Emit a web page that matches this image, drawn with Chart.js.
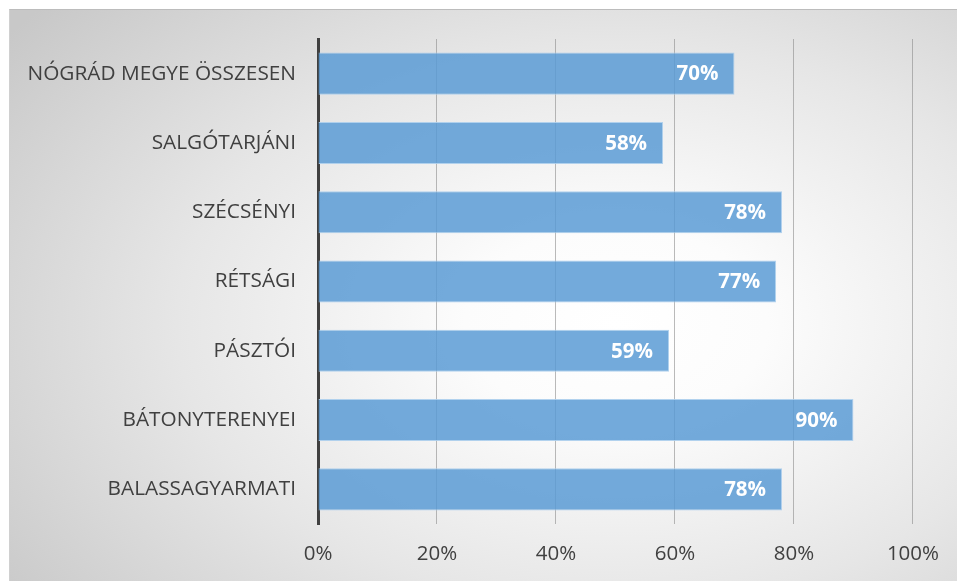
<!DOCTYPE html>
<html>
<head>
<meta charset="utf-8">
<script src="https://cdn.jsdelivr.net/npm/chart.js@4.4.1/dist/chart.umd.min.js"></script>
<style>
  html, body { margin: 0; padding: 0; background: #ffffff; }
  #frame {
    position: absolute; left: 9px; top: 9px; width: 948px; height: 572px;
    background: radial-gradient(ellipse 80% 85% at 64% 55%, #ffffff 0%, #fcfcfc 20%, #e6e6e6 58%, #c8c8c8 100%);
    border-top: 1px solid #bcbcbc; border-left: 1px solid #d0d0d0;
    box-sizing: border-box;
  }
  #wrap { position: absolute; left: 0; top: 0; width: 957px; height: 581px; }
</style>
</head>
<body>
<div id="frame"></div>
<div id="wrap"><canvas id="chart" width="957" height="581"></canvas></div>
<script>
// Járások szerinti arányok (%)
const categories = [
  'NÓGRÁD MEGYE ÖSSZESEN',
  'SALGÓTARJÁNI',
  'SZÉCSÉNYI',
  'RÉTSÁGI',
  'PÁSZTÓI',
  'BÁTONYTERENYEI',
  'BALASSAGYARMATI'
];
const values = [70, 58, 78, 77, 59, 90, 78];
const tickValues = [0, 20, 40, 60, 80, 100];

const FONT = '"Open Sans", "DejaVu Sans", sans-serif';

// Writes each bar's value inside its right end
const barValueLabels = {
  id: 'barValueLabels',
  afterDatasetsDraw(chart) {
    const { ctx } = chart;
    const meta = chart.getDatasetMeta(0);
    ctx.save();
    ctx.font = 'bold 20.5px ' + FONT;
    ctx.fillStyle = '#ffffff';
    ctx.textAlign = 'right';
    ctx.textBaseline = 'middle';
    meta.data.forEach((bar, i) => {
      ctx.fillText(values[i] + '%', bar.x - 16, bar.y + 1);
    });
    ctx.restore();
  }
};

new Chart(document.getElementById('chart'), {
  type: 'bar',
  data: {
    labels: categories,
    datasets: [{
      data: values,
      backgroundColor: 'rgba(91,155,213,0.85)',
      borderColor: 'rgba(170,205,236,0.9)',
      borderWidth: 1,
      borderSkipped: 'start',
      categoryPercentage: 1,
      barPercentage: 0.607
    }]
  },
  options: {
    indexAxis: 'y',
    responsive: false,
    animation: false,
    layout: { padding: { left: 0, right: 44, top: 39, bottom: 0 } },
    plugins: { legend: { display: false }, tooltip: { enabled: false } },
    scales: {
      x: {
        min: 0, max: 100,
        afterBuildTicks(scale) { scale.ticks = tickValues.map(v => ({ value: v })); },
        afterFit(scale) { scale.height = 57; },
        grid: { color: 'rgba(140,140,140,0.6)', lineWidth: 1, drawTicks: false },
        border: { display: false },
        ticks: {
          padding: 18,
          color: '#404040',
          font: { family: FONT, size: 20.5 },
          callback: v => v + '%'
        }
      },
      y: {
        afterFit(scale) { scale.width = 318; },
        grid: { display: false, drawTicks: false },
        border: { display: true, color: '#404040', width: 3 },
        ticks: {
          padding: 22,
          color: '#404040',
          font: { family: FONT, size: 20.8 }
        }
      }
    }
  },
  plugins: [barValueLabels]
});
</script>
</body>
</html>
